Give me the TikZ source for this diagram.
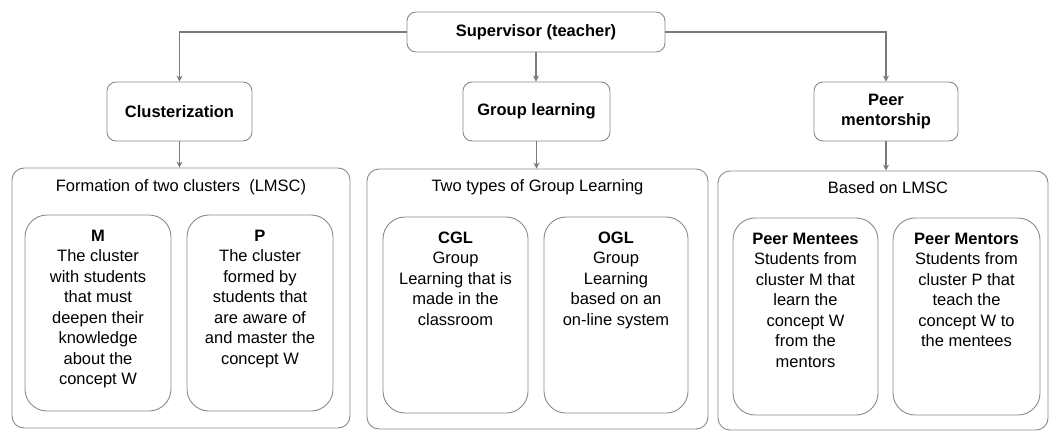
\documentclass[tikz,border=0pt]{standalone}
\usepackage{fontspec}
\setmainfont{Liberation Sans}
\usetikzlibrary{arrows.meta}
\definecolor{edgegray}{HTML}{8A8A8A}
\definecolor{linkgray}{HTML}{7A7A7A}
\tikzset{
  headbox/.style={draw=edgegray, line width=0.9pt, rounded corners=9pt, fill=white,
    align=center, font=\fontsize{16.5}{20}\selectfont\bfseries, inner sep=0pt},
  groupbox/.style={draw=edgegray, line width=0.9pt, rounded corners=12pt, inner sep=0pt},
  itembox/.style={draw=edgegray, line width=0.9pt, rounded corners=22pt, inner sep=0pt},
  caption/.style={font=\fontsize{16.5}{21}\selectfont, inner sep=0pt, anchor=base},
  itemtext/.style={font=\fontsize{16.5}{20.5}\selectfont, align=center, inner sep=0pt, anchor=north},
  link/.style={draw=linkgray, line width=1.8pt, -{Stealth[length=6pt,width=6pt]}},
}
\begin{document}
\begin{tikzpicture}[x=1pt,y=-1pt]
\useasboundingbox (0,0) rectangle (1050,431);

% top level
\node[headbox, minimum width=258, minimum height=40] (sup) at (536,32) {Supervisor (teacher)};

% three branches
\node[headbox, minimum width=145, minimum height=59] (clus) at (179.5,111.5) {Clusterization};
\node[headbox, minimum width=147, minimum height=59] (grp) at (536.5,111.5) {Group learning};
\node[headbox, minimum width=144, minimum height=59] (peer) at (886,111.5) {Peer\\mentorship};

% group frames
\node[groupbox, minimum width=338, minimum height=260] (g1) at (181,298) {};
\node[groupbox, minimum width=341, minimum height=260] (g2) at (537.5,299) {};
\node[groupbox, minimum width=330, minimum height=259] (g3) at (883,300.5) {};

\node[caption] (t1) at (181,191) {Formation of two clusters\ \ (LMSC)};
\node[caption] (t2) at (537.5,191) {Two types of Group Learning};
\node[caption] (t3) at (888,193) {Based on LMSC};

% item boxes
\node[itembox, minimum width=146, minimum height=196] (m) at (98,313) {};
\node[itembox, minimum width=146, minimum height=196] (p) at (260,313) {};
\node[itembox, minimum width=145, minimum height=196] (cgl) at (455.5,315) {};
\node[itembox, minimum width=144, minimum height=196] (ogl) at (616,315) {};
\node[itembox, minimum width=145, minimum height=197] (mentee) at (805.5,316.5) {};
\node[itembox, minimum width=147, minimum height=197] (mentor) at (966.5,316.5) {};

\node[itemtext] (mt) at ([yshift=-15pt]m.north) {\textbf{M}\\The cluster\\with students\\that must\\deepen their\\knowledge\\about the\\concept W};
\node[itemtext] (pt) at ([yshift=-15pt]p.north) {\textbf{P}\\The cluster\\formed by\\students that\\are aware of\\and master the\\concept W};
\node[itemtext] (cglt) at ([yshift=-15pt]cgl.north) {\textbf{CGL}\\Group\\Learning that is\\made in the\\classroom};
\node[itemtext] (oglt) at ([yshift=-15pt]ogl.north) {\textbf{OGL}\\Group\\Learning\\based on an\\on-line system};
\node[itemtext] (menteet) at ([yshift=-15pt]mentee.north) {\textbf{Peer Mentees}\\Students from\\cluster M that\\learn the\\concept W\\from the\\mentors};
\node[itemtext] (mentort) at ([yshift=-15pt]mentor.north) {\textbf{Peer Mentors}\\Students from\\cluster P that\\teach the\\concept W to\\the mentees};

% connectors
\draw[link] (sup.west) -| (clus.north);
\draw[link] (sup.south) -- (sup.south |- grp.north);
\draw[link] (sup.east) -| (peer.north);
\draw[link] (clus.south) -- (clus.south |- g1.north);
\draw[link] (grp.south) -- (grp.south |- g2.north);
\draw[link] (peer.south) -- (peer.south |- g3.north);
\end{tikzpicture}
\end{document}
